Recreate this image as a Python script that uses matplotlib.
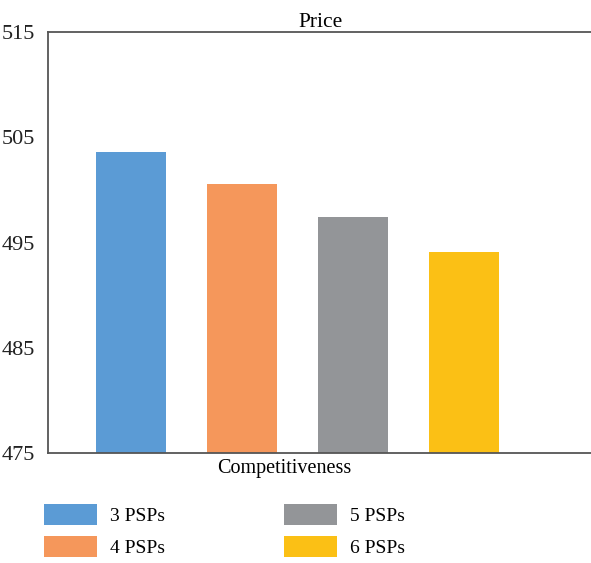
import matplotlib
matplotlib.use('Agg')
import matplotlib.pyplot as plt
import numpy as np

# price for each market size
labels = ['3 PSPs', '4 PSPs', '5 PSPs', '6 PSPs']
prices = [503.6, 500.6, 497.45, 494.1]
colors = ['#5B9BD5', '#F5975B', '#939598', '#FBC015']
yticks = [475, 485, 495, 505, 515]


def main():
    plt.rcParams['font.family'] = 'Liberation Serif'
    plt.rcParams['font.size'] = 14

    fig = plt.figure(figsize=(5.91, 5.63), dpi=100)
    ax = fig.add_axes([48 / 591, 1 - 453 / 563, 1 - 48 / 591, (453 - 32) / 563])

    pos = np.arange(len(prices))
    bars = []
    for p, v, c, lab in zip(pos, prices, colors, labels):
        b = ax.bar(p, v - 475, bottom=475, width=0.632, color=c, label=lab)
        bars.append(b)

    ax.set_ylim(475, 515)
    ax.set_xlim(-0.754, 4.151)
    ax.set_yticks(yticks)
    ax.set_xticks([])
    ax.tick_params(axis='y', length=0, pad=9, labelsize=16, colors='#222222')

    for side in ['top', 'bottom', 'left']:
        ax.spines[side].set_color('#555555')
        ax.spines[side].set_linewidth(1.3)
    ax.spines['right'].set_visible(False)

    ax.set_title('Price', fontsize=15.5, pad=3, x=(321 - 48) / (591 - 48))
    fig.text(284 / 591, 1 - 469 / 563, 'Competitiveness', ha='center', va='center', fontsize=14.5)

    fig.legend(handles=bars, labels=labels, ncol=2, loc='upper left',
               bbox_to_anchor=(44 / 591, 1 - 504 / 563), frameon=False, fontsize=14,
               handlelength=2.75, handleheight=1.3, handletextpad=0.65,
               columnspacing=6.1, labelspacing=0.55, borderpad=0, borderaxespad=0)

    fig.savefig('out.png', dpi=100)


if __name__ == '__main__':
    main()
